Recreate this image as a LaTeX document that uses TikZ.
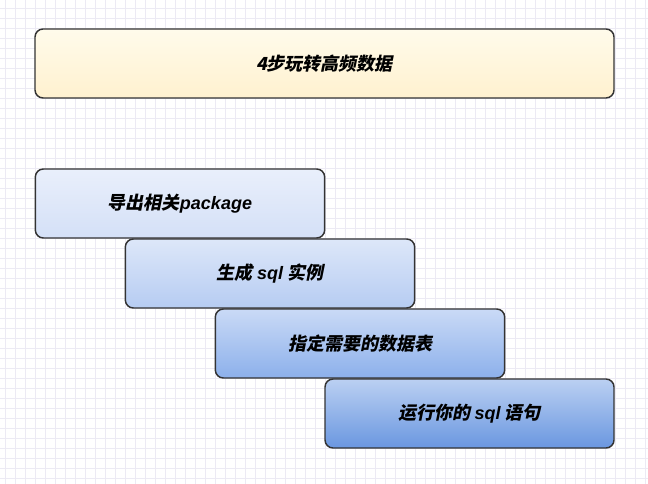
\documentclass[tikz,border=0pt]{standalone}
\usepackage{fontspec}
\usepackage{xcolor}
\usepackage{tikz}
\newfontfamily\cjkfont[FakeSlant=0.2]{Noto Sans CJK SC}
\newfontfamily\latfont{Liberation Sans}
\newcommand{\lat}[1]{{\latfont\bfseries\itshape #1}}

\definecolor{gridgray}{HTML}{ECEAF4}
\definecolor{edgegray}{HTML}{333333}
\definecolor{titletop}{HTML}{FFFBEB}
\definecolor{titlebot}{HTML}{FFF1CF}

\tikzset{
  stepbox/.style={draw=edgegray, line width=1.1pt, rounded corners=6pt,
    minimum width=217pt, minimum height=51.75pt, inner sep=0pt,
    font=\cjkfont\bfseries\fontsize{13.5}{16}\selectfont},
  titlebox/.style={stepbox, minimum width=434.25pt,
    top color=titletop, bottom color=titlebot}
}

\begin{document}
\begin{tikzpicture}[x=0.75pt, y=-0.75pt]
    \useasboundingbox (0, 0) rectangle (648, 484);
    \fill[white] (0, 0) rectangle (648, 484);

    % draw background grid
    \foreach \gx in {5, 15, ..., 645}
      \draw[gridgray, line width=0.6pt] (\gx, 0) -- (\gx, 484);
    \foreach \gy in {8, 18, ..., 478}
      \draw[gridgray, line width=0.6pt] (0, \gy) -- (648, \gy);

    % draw title
    \node[titlebox] (title) at (324.5, 63.5) {4步玩转高频数据};

    % draw the four steps
    \node[stepbox, top color={rgb,255:red,233;green,239;blue,251},
      bottom color={rgb,255:red,212;green,224;blue,247}]
      (export) at (180, 203.5) {导出相关\lat{package}};
    \node[stepbox, top color={rgb,255:red,221;green,231;blue,249},
      bottom color={rgb,255:red,182;green,204;blue,242}]
      (sqlctx) at (270, 273.5) {生成 \lat{sql} 实例};
    \node[stepbox, top color={rgb,255:red,202;green,218;blue,246},
      bottom color={rgb,255:red,140;green,176;blue,235}]
      (tables) at (360, 343.5) {指定需要的数据表};
    \node[stepbox, minimum width=216.75pt,
      top color={rgb,255:red,187;green,208;blue,242},
      bottom color={rgb,255:red,106;green,151;blue,224}]
      (runsql) at (469.5, 413.5) {运行你的 \lat{sql} 语句};

\end{tikzpicture}
\end{document}
